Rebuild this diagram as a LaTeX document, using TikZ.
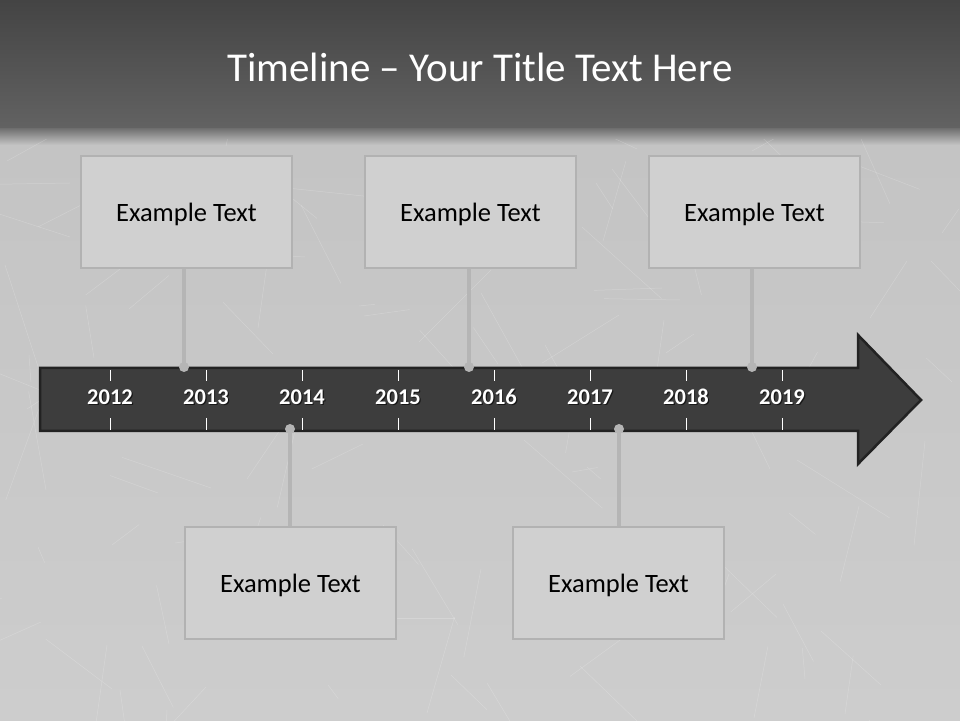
\documentclass[tikz,border=0pt]{standalone}
\usepackage{fontspec}
\setmainfont{Carlito}
\begin{document}
\begin{tikzpicture}[x=1pt,y=1pt,
  box/.style={draw=boxline,line width=2.5pt,fill=boxfill,minimum width=211pt,minimum height=112pt,inner sep=0pt,font=\fontsize{26.5}{30}\selectfont,text=black},
  dot/.style={circle,fill=conn,minimum size=10pt,inner sep=0pt},
  link/.style={draw=conn,line width=3.5pt},
  tick/.style={draw=white,line width=0.8pt},
  year/.style={text=white,anchor=base,inner sep=0pt,font=\bfseries\fontsize{22.5}{26}\selectfont},
  yearsh/.style={text=black,opacity=0.6,anchor=base,inner sep=0pt,font=\bfseries\fontsize{22.5}{26}\selectfont}]
\definecolor{boxfill}{HTML}{D0D0D0}
\definecolor{boxline}{HTML}{B2B2B2}
\definecolor{conn}{HTML}{B5B5B5}
\definecolor{arrowfill}{HTML}{3D3D3D}
\definecolor{arrowline}{HTML}{222222}
\newcommand{\extext}{\raisebox{-2.5pt}[\height][\depth]{Example Text}}
\useasboundingbox (0,0) rectangle (960,720);
% background
\shade[top color={rgb,255:red,196;green,196;blue,196}, bottom color={rgb,255:red,205;green,205;blue,205}] (0,0) rectangle (960,575);
\shade[top color={rgb,255:red,110;green,110;blue,110}, bottom color={rgb,255:red,196;green,196;blue,196}] (0,575) rectangle (960,592);
\shade[top color={rgb,255:red,68;green,68;blue,68}, bottom color={rgb,255:red,98;green,98;blue,98}] (0,592) rectangle (960,720);
% scratches
\begin{scope}
\clip (0,0) rectangle (960,580);
\pgfmathsetseed{7}
\foreach \i in {1,...,110}{
  \pgfmathsetmacro{\xa}{random(0,960)}
  \pgfmathsetmacro{\ya}{random(0,575)}
  \pgfmathsetmacro{\ang}{random(0,360)}
  \pgfmathsetmacro{\len}{random(15,110)}
  \draw[white,opacity=0.2,line width=0.5pt] (\xa,\ya) -- ++(\ang:\len);
}
\end{scope}
% title
\node[text=white,font=\fontsize{41}{46}\selectfont] (title) at (480,653) {Timeline – Your Title Text Here};
% arrow
\draw[fill=arrowfill,draw=arrowline,line width=2.5pt,line join=miter]
  (40,352) -- (858,352) -- (858,385) -- (921,320) -- (858,256) -- (858,289) -- (40,289) -- cycle;
% ticks and years
\foreach \y [count=\k from 0] in {2012,2013,2014,2015,2016,2017,2018,2019}{
  \pgfmathsetmacro{\xx}{110+96*\k}
  \draw[tick] (\xx,350) -- (\xx,339);
  \draw[tick] (\xx,302) -- (\xx,290);
  \node[yearsh] at (\xx+1.2,314.3) {\y};
  \node[year] (y\y) at (\xx,315.5) {\y};
}
% boxes
\node[box] (b1) at (186.5,508) {\extext};
\node[box] (b2) at (470.5,508) {\extext};
\node[box] (b3) at (754.5,508) {\extext};
\node[box] (b4) at (290.5,137) {\extext};
\node[box] (b5) at (618.5,137) {\extext};
% dots
\node[dot] (d1) at (184,353) {};
\node[dot] (d2) at (469,353) {};
\node[dot] (d3) at (752,353) {};
\node[dot] (d4) at (290,291) {};
\node[dot] (d5) at (619,291) {};
% links
\draw[link] (b1.south -| d1) -- (d1.center);
\draw[link] (b2.south -| d2) -- (d2.center);
\draw[link] (b3.south -| d3) -- (d3.center);
\draw[link] (b4.north -| d4) -- (d4.center);
\draw[link] (b5.north -| d5) -- (d5.center);
\end{tikzpicture}
\end{document}
